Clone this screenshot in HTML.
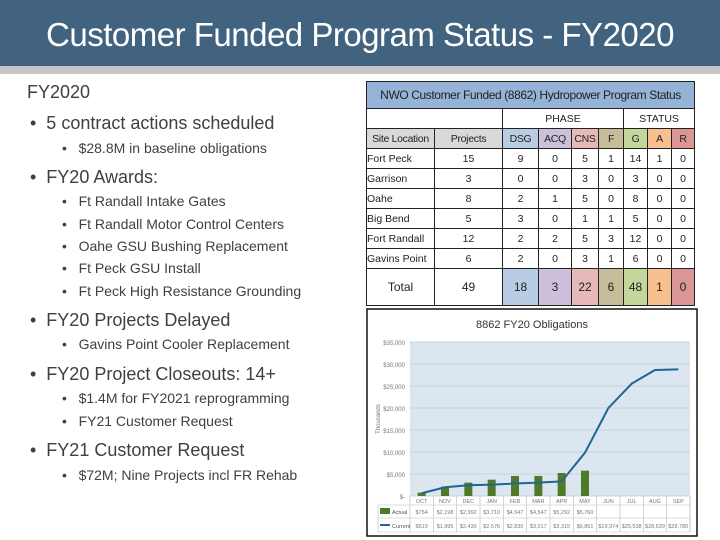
<!DOCTYPE html>
<html><head><meta charset="utf-8">
<style>
body{margin:0;width:720px;height:540px;overflow:hidden;background:#fff;font-family:"Liberation Sans",sans-serif;position:relative}
.t{position:absolute;color:#404040;white-space:nowrap;line-height:1}
.l1{font-size:18px}
.l2{font-size:14px}
table{border-collapse:collapse;table-layout:fixed;width:329px;position:absolute;left:366px;top:81px;font-family:"Liberation Sans",sans-serif;font-size:10.5px;color:#222}
td{border:1px solid #222;padding:0;text-align:center;white-space:nowrap;overflow:hidden}
</style></head><body>
<div style="position:absolute;left:0;top:0;width:720px;height:66px;background:#41637f"></div>
<div style="position:absolute;left:0;top:66px;width:720px;height:8px;background:#c6c6c8"></div>
<div class="t" style="left:0;width:720px;text-align:center;top:18px;font-size:33px;color:#fff;letter-spacing:-0.5px">Customer Funded Program Status - FY2020</div>

<div class="t l1" style="left:27px;top:83px">FY2020</div>
<div>
<div class="t l1" style="left:30px;top:114px">•&nbsp; 5 contract actions scheduled</div>
<div class="t l2" style="left:62px;top:141px">•&nbsp;&nbsp; $28.8M in baseline obligations</div>
<div class="t l1" style="left:30px;top:168px">•&nbsp; FY20 Awards:</div>
<div class="t l2" style="left:62px;top:194px">•&nbsp;&nbsp; Ft Randall Intake Gates</div>
<div class="t l2" style="left:62px;top:217px">•&nbsp;&nbsp; Ft Randall Motor Control Centers</div>
<div class="t l2" style="left:62px;top:239px">•&nbsp;&nbsp; Oahe GSU Bushing Replacement</div>
<div class="t l2" style="left:62px;top:261px">•&nbsp;&nbsp; Ft Peck GSU Install</div>
<div class="t l2" style="left:62px;top:284px">•&nbsp;&nbsp; Ft Peck High Resistance Grounding</div>
<div class="t l1" style="left:30px;top:311px">•&nbsp; FY20 Projects Delayed</div>
<div class="t l2" style="left:62px;top:337px">•&nbsp;&nbsp; Gavins Point Cooler Replacement</div>
<div class="t l1" style="left:30px;top:365px">•&nbsp; FY20 Project Closeouts: 14+</div>
<div class="t l2" style="left:62px;top:391px">•&nbsp;&nbsp; $1.4M for FY2021 reprogramming</div>
<div class="t l2" style="left:62px;top:414px">•&nbsp;&nbsp; FY21 Customer Request</div>
<div class="t l1" style="left:30px;top:441px">•&nbsp; FY21 Customer Request</div>
<div class="t l2" style="left:62px;top:468px">•&nbsp;&nbsp; $72M; Nine Projects incl FR Rehab</div>
</div>

<table>
<colgroup><col style="width:68px"><col style="width:68px"><col style="width:36px"><col style="width:33px"><col style="width:27px"><col style="width:25px"><col style="width:24px"><col style="width:24px"><col style="width:23px"></colgroup>
<tr style="height:27px"><td colspan="9" style="background:#95b3d7;font-size:12px;letter-spacing:-0.4px">NWO Customer Funded (8862) Hydropower Program Status</td></tr>
<tr style="height:20px"><td colspan="2"></td><td colspan="4">PHASE</td><td colspan="3">STATUS</td></tr>
<tr style="height:20px;letter-spacing:-0.3px"><td style="background:#d9d9d9">Site Location</td><td style="background:#d9d9d9">Projects</td><td style="background:#b8cce4">DSG</td><td style="background:#ccc0da">ACQ</td><td style="background:#e6b9b8">CNS</td><td style="background:#c4bd97">F</td><td style="background:#c3d69b">G</td><td style="background:#fabf8f">A</td><td style="background:#da9694">R</td></tr>
<tr style="height:20px"><td style="text-align:left">Fort Peck</td><td>15</td><td>9</td><td>0</td><td>5</td><td>1</td><td>14</td><td>1</td><td>0</td></tr>
<tr style="height:20px"><td style="text-align:left">Garrison</td><td>3</td><td>0</td><td>0</td><td>3</td><td>0</td><td>3</td><td>0</td><td>0</td></tr>
<tr style="height:20px"><td style="text-align:left">Oahe</td><td>8</td><td>2</td><td>1</td><td>5</td><td>0</td><td>8</td><td>0</td><td>0</td></tr>
<tr style="height:20px"><td style="text-align:left">Big Bend</td><td>5</td><td>3</td><td>0</td><td>1</td><td>1</td><td>5</td><td>0</td><td>0</td></tr>
<tr style="height:20px"><td style="text-align:left">Fort Randall</td><td>12</td><td>2</td><td>2</td><td>5</td><td>3</td><td>12</td><td>0</td><td>0</td></tr>
<tr style="height:20px"><td style="text-align:left">Gavins Point</td><td>6</td><td>2</td><td>0</td><td>3</td><td>1</td><td>6</td><td>0</td><td>0</td></tr>
<tr style="height:37px;font-size:12px"><td>Total</td><td>49</td><td style="background:#b8cce4">18</td><td style="background:#ccc0da">3</td><td style="background:#e6b9b8">22</td><td style="background:#c4bd97">6</td><td style="background:#c3d69b">48</td><td style="background:#fabf8f">1</td><td style="background:#da9694">0</td></tr>
</table>

<svg id="chart" width="720" height="540" style="position:absolute;left:0;top:0" font-family="Liberation Sans, sans-serif"></svg>
<script>
const months=["OCT","NOV","DEC","JAN","FEB","MAR","APR","MAY","JUN","JUL","AUG","SEP"];
const actual=[760,2120,3030,3710,4545,4545,5230,5760];
const current=[619,1995,2430,2576,2830,3030,3315,9850,19974,25530,28640,28780];
const actualLabels=["$754","$2,198","$2,992","$3,710","$4,547","$4,547","$5,292","$5,760"];
const currentLabels=["$619","$1,995","$2,430","$2,576","$2,830","$3,017","$3,315","$9,851","$19,974","$25,538","$28,639","$28,780"];
const yTicks=[0,5000,10000,15000,20000,25000,30000,35000];
const yTickLabels=["$-","$5,000","$10,000","$15,000","$20,000","$25,000","$30,000","$35,000"];
const ns="http://www.w3.org/2000/svg",svg=document.getElementById('chart');
const X0=410,X1=690,Y0=496,Y1=342,YMAX=35000;
const bw=(X1-X0)/months.length;
const xC=i=>X0+bw*(i+0.5);
const y=v=>Y0-(v/YMAX)*(Y0-Y1);
function mk(t,a,txt){const e=document.createElementNS(ns,t);for(const k in a)e.setAttribute(k,a[k]);if(txt!=null)e.textContent=txt;svg.appendChild(e);return e;}
let e;
e=mk('rect',{x:367,y:309,width:330,height:227,fill:'#fff',stroke:'#111','stroke-width':1.5});


e=mk('text',{x:532,y:328,'text-anchor':'middle','font-size':11,fill:'#333'},'8862 FY20 Obligations');


e=mk('rect',{x:X0,y:Y1,width:X1-X0,height:Y0-Y1,fill:'#dce6f1'});


yTicks.forEach((t,i)=>{
 e=mk('line',{x1:X0,x2:X1,y1:y(t),y2:y(t),stroke:'#c8c8c8','stroke-width':0.8});
 
 
 e=mk('text',{x:X0-5,y:y(t)+3,'text-anchor':'end','font-size':6,fill:'#777'},yTickLabels[i]);
 
 
});
e=mk('text',{x:380,y:419,'text-anchor':'middle','font-size':6,fill:'#777',transform:'rotate(-90 380 419)'},'Thousands');


actual.forEach((v,i)=>{
 e=mk('rect',{x:xC(i)-4,y:y(v),width:8,height:Y0-y(v),fill:'#4f7a28'});
 
 
});
e=mk('polyline',{points:current.map((v,i)=>xC(i)+','+y(v)).join(' '),fill:'none',stroke:'#1f6690','stroke-width':2});


const r1=505,r2=518,r3=532;
[[X0,Y0,X0,r3],[378,r1,X1,r1],[378,r2,X1,r2],[378,r3,X1,r3],[378,r1,378,r3],[X1,Y0,X1,r3]].forEach(l=>{
 e=mk('line',{x1:l[0],y1:l[1],x2:l[2],y2:l[3],stroke:'#bbb','stroke-width':0.6});
 
 
});
months.forEach((m,i)=>{
 e=mk('line',{x1:X0+bw*(i+1),x2:X0+bw*(i+1),y1:Y0,y2:r3,stroke:'#bbb','stroke-width':0.6});
 
 
 e=mk('text',{x:xC(i),y:503,'text-anchor':'middle','font-size':5.5,fill:'#777'},m);
 
 
 if(i<actualLabels.length){
  e=mk('text',{x:xC(i),y:514,'text-anchor':'middle','font-size':5.5,fill:'#777'},actualLabels[i]);
  
  
 }
 e=mk('text',{x:xC(i),y:528,'text-anchor':'middle','font-size':5.5,fill:'#777'},currentLabels[i]);
 
 
});
e=mk('rect',{x:380,y:508,width:10,height:6,fill:'#4f7a28'});


e=mk('text',{x:392,y:514,'font-size':5.5,fill:'#555'},'Actual');


e=mk('line',{x1:380,x2:390,y1:525,y2:525,stroke:'#1f6690','stroke-width':2});


e=mk('text',{x:392,y:528,'font-size':5.5,fill:'#555'},'Current');


</script>
</body></html>
